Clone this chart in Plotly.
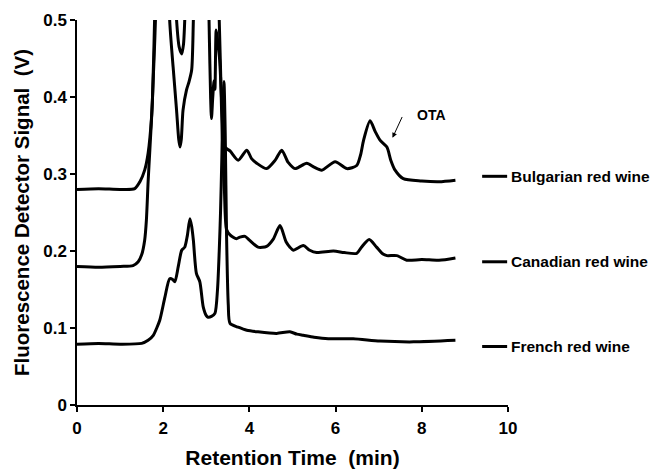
import plotly.graph_objects as go

# ---- data ----
series_names = ["Bulgarian red wine", "Canadian red wine", "French red wine"]

bulgarian_x = [0, 0.5, 1.0, 1.34, 1.46, 1.57, 1.65, 1.73, 1.78, 1.82, 1.9, 2.0, 2.08, 2.15, 2.23, 2.31,
               2.36, 2.39, 2.42, 2.46, 2.54, 2.60, 2.66, 2.70, 2.8, 2.95, 3.03, 3.07, 3.10, 3.12, 3.15,
               3.18, 3.20, 3.23, 3.27, 3.31, 3.37, 3.43, 3.55, 3.74, 3.94, 4.05, 4.17, 4.40, 4.60,
               4.75, 4.90, 5.06, 5.33, 5.50, 5.68, 5.99, 6.26, 6.49, 6.58, 6.65, 6.80, 6.92, 7.03,
               7.19, 7.28, 7.38, 7.57, 8.0, 8.4, 8.78]
bulgarian_y = [0.280, 0.281, 0.280, 0.281, 0.290, 0.305, 0.327, 0.374, 0.439, 0.5, 0.75, 0.85, 0.70, 0.5,
               0.439, 0.383, 0.345, 0.335, 0.345, 0.383, 0.409, 0.420, 0.435, 0.5, 0.75, 0.80, 0.60,
               0.48, 0.40, 0.372, 0.400, 0.421, 0.410, 0.487, 0.470, 0.448, 0.380, 0.335, 0.330,
               0.318, 0.331, 0.320, 0.314, 0.307, 0.318, 0.331, 0.315, 0.307, 0.314, 0.309, 0.305,
               0.316, 0.307, 0.311, 0.325, 0.344, 0.369, 0.355, 0.344, 0.335, 0.318, 0.305, 0.294,
               0.291, 0.290, 0.292]

canadian_x = [0, 0.5, 1.0, 1.30, 1.42, 1.50, 1.57, 1.61, 1.65, 1.69, 1.75, 1.80, 1.9, 2.05, 2.2, 2.31,
              2.37, 2.43, 2.47, 2.50, 2.6, 2.8, 3.0, 3.12, 3.30, 3.36, 3.42, 3.47, 3.55, 3.70, 3.78,
              3.90, 4.00, 4.20, 4.40, 4.55, 4.71, 4.85, 4.94, 5.02, 5.25, 5.40, 5.56, 5.95, 6.20,
              6.49, 6.60, 6.78, 6.95, 7.10, 7.19, 7.42, 7.65, 8.0, 8.4, 8.78]
canadian_y = [0.180, 0.179, 0.180, 0.181, 0.186, 0.195, 0.214, 0.240, 0.290, 0.331, 0.396, 0.5, 0.80,
              0.90, 0.65, 0.5, 0.465, 0.456, 0.468, 0.5, 0.75, 0.90, 0.85, 0.75, 0.5, 0.37, 0.28,
              0.228, 0.221, 0.216, 0.218, 0.219, 0.214, 0.205, 0.206, 0.215, 0.233, 0.212, 0.205,
              0.201, 0.207, 0.201, 0.198, 0.200, 0.198, 0.197, 0.205, 0.215, 0.205, 0.196, 0.194,
              0.194, 0.188, 0.189, 0.188, 0.191]

french_x = [0, 0.5, 1.0, 1.5, 1.65, 1.77, 1.85, 1.92, 2.04, 2.15, 2.22, 2.27, 2.35, 2.43, 2.50, 2.56,
            2.62, 2.66, 2.70, 2.77, 2.85, 2.93, 3.00, 3.04, 3.12, 3.20, 3.26, 3.30, 3.33, 3.36, 3.39,
            3.41, 3.44, 3.47, 3.51, 3.55, 3.74, 3.94, 4.20, 4.63, 4.94, 5.10, 5.25, 5.50, 5.83,
            6.41, 7.03, 7.81, 8.78]
french_y = [0.079, 0.080, 0.079, 0.080, 0.084, 0.0905, 0.100, 0.110, 0.140, 0.164, 0.163, 0.160, 0.180,
            0.201, 0.205, 0.220, 0.242, 0.232, 0.214, 0.171, 0.160, 0.127, 0.116, 0.114, 0.115,
            0.119, 0.150, 0.200, 0.250, 0.320, 0.400, 0.420, 0.350, 0.220, 0.130, 0.106, 0.101,
            0.097, 0.095, 0.093, 0.095, 0.092, 0.0905, 0.088, 0.086, 0.086, 0.083, 0.082, 0.084]

x_tick_vals = [0, 2, 4, 6, 8, 10]
x_tick_text = ["0", "2", "4", "6", "8", "10"]
y_tick_vals = [0, 0.1, 0.2, 0.3, 0.4, 0.5]
y_tick_text = ["0", "0.1", "0.2", "0.3", "0.4", "0.5"]

legend_y = [0.297, 0.186, 0.076]

FONT = "Liberation Sans, Arial, sans-serif"

fig = go.Figure()
for name, xs, ys in zip(series_names,
                        [bulgarian_x, canadian_x, french_x],
                        [bulgarian_y, canadian_y, french_y]):
    fig.add_trace(go.Scatter(x=xs, y=ys, mode="lines", name=name,
                             line=dict(color="black", width=3, shape="spline", smoothing=0.7),
                             showlegend=False))

# legend-like labels on the right
for name, ly in zip(series_names, legend_y):
    fig.add_shape(type="line", xref="x", yref="y", x0=9.40, x1=9.98, y0=ly, y1=ly,
                  line=dict(color="black", width=3))
    fig.add_annotation(x=1.002, y=ly, xref="paper", yref="y", text="<b>%s</b>" % name,
                       showarrow=False, xanchor="left", yanchor="middle",
                       font=dict(family=FONT, size=15.5, color="black"))

# OTA label and arrow
fig.add_annotation(x=8.22, y=0.376, xref="x", yref="y", text="<b>OTA</b>", showarrow=False,
                   font=dict(family=FONT, size=14, color="black"))
fig.add_annotation(x=7.32, y=0.347, xref="x", yref="y", ax=7.56, ay=0.376, axref="x", ayref="y",
                   text="", showarrow=True, arrowhead=2, arrowsize=1, arrowwidth=1,
                   arrowcolor="black")

fig.update_layout(
    width=652, height=469,
    margin=dict(l=77, r=144, t=20, b=64),
    paper_bgcolor="white", plot_bgcolor="white",
    font=dict(family=FONT, color="black"),
    showlegend=False,
)
fig.update_xaxes(range=[0, 10], tickvals=x_tick_vals, ticktext=["<b>%s</b>" % t for t in x_tick_text],
                 showline=True, linecolor="black", linewidth=1.5, ticks="outside", ticklen=5,
                 tickwidth=1.5, tickcolor="black", showgrid=False, zeroline=False,
                 ticklabelstandoff=2, automargin=False,
                 tickfont=dict(family=FONT, size=17, color="black"),
                 title=dict(text="<b>Retention Time\u00a0 (min)</b>", standoff=17,
                            font=dict(family=FONT, size=21, color="black")))
fig.update_yaxes(range=[0, 0.5], tickvals=y_tick_vals, ticktext=["<b>%s</b>" % t for t in y_tick_text],
                 showline=True, linecolor="black", linewidth=1.5, ticks="outside", ticklen=5,
                 tickwidth=1.5, tickcolor="black", showgrid=False, zeroline=False,
                 automargin=False,
                 tickfont=dict(family=FONT, size=17, color="black"),
                 title=dict(text="<b>Fluorescence Detector Signal\u00a0 (V)</b>", standoff=8,
                            font=dict(family=FONT, size=20.5, color="black")))

fig.write_html("out.html")
